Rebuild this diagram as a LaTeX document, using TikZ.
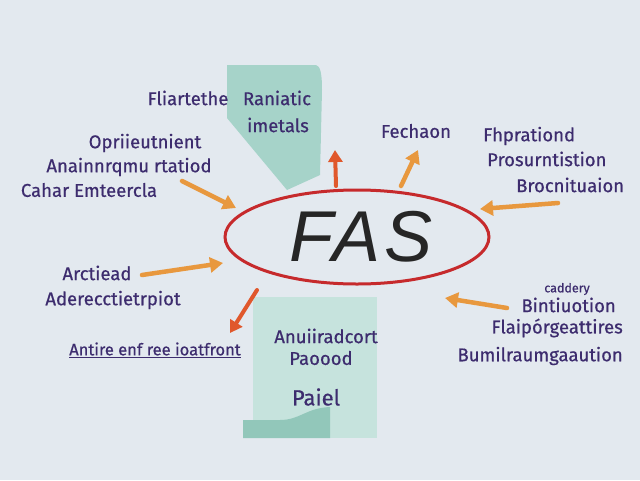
\documentclass[tikz,border=0pt]{standalone}
\usepackage{fontspec}
\setmainfont{Fira Sans}[FakeBold=0.6]
\newfontfamily\fasfont{Liberation Sans}[LetterSpace=6]
\usetikzlibrary{arrows.meta,shapes.geometric}
\definecolor{bg}{HTML}{E3E9EF}
\definecolor{tealA}{HTML}{A6D3C9}
\definecolor{tealB}{HTML}{C6E3DD}
\definecolor{tealC}{HTML}{92C7BA}
\definecolor{ink}{HTML}{3D2C6E}
\definecolor{ringred}{HTML}{C62A2C}
\definecolor{arrorange}{HTML}{E8983E}
\definecolor{arrred}{HTML}{E0582C}
\tikzset{
  lbl/.style={text=ink, font=\fontsize{18.5}{22}\selectfont, inner sep=0pt, anchor=center},
  arr/.style={draw=arrorange, line width=4.5pt, line cap=round, -{Triangle[width=15pt,length=13pt]}},
  arrr/.style={draw=arrred, line width=4pt, line cap=round, -{Triangle[width=14pt,length=12pt]}},
}
\begin{document}
\begin{tikzpicture}[x=1pt,y=-1pt]
\fill[bg] (0,0) rectangle (640,480);
\useasboundingbox (0,0) rectangle (640,480);
% teal shapes
\fill[tealA] (227,65) -- (316,65) .. controls (320,66) and (322,72) .. (322,90) -- (320,175) -- (287,190) -- (227,118) -- cycle;
\fill[tealB] (253,297) rectangle (377,438);
\fill[tealC] (243,420) -- (280,420) .. controls (300,420) and (306,408) .. (330,407) -- (330,438) -- (243,438) -- cycle;
% central ellipse
\node[draw=ringred, line width=3pt, ellipse, minimum width=264pt, minimum height=94pt, inner sep=0pt] (fas) at (357,237) {};
\node[font=\fasfont\itshape\fontsize{72}{72}\selectfont, text=black!85] (fastext) at (361,237) {FAS};
% labels
\node[lbl] (l1) at (188,98) {Fliartethe};
\node[lbl] (l2) at (277,98) {Raniatic};
\node[lbl] (l3) at (278,125) {imetals};
\node[lbl] (l4) at (145,143) {Opriieutnient};
\node[lbl] (l5) at (129,167) {Anainnrqmu rtatiod};
\node[lbl] (l6) at (89,190) {Cahar Emteercla};
\node[lbl] (l7) at (416,131) {Fechaon};
\node[lbl, anchor=west] (l8) at (483,136) {Fhprationd};
\node[lbl, anchor=west] (l9) at (487,159) {Prosurntistion};
\node[lbl, anchor=west] (l10) at (516,185) {Brocnituaion};
\node[lbl] (l11) at (97,273) {Arctiead};
\node[lbl] (l12) at (113,300) {Aderecctietrpiot};
\node[lbl, font=\fontsize{16.5}{20}\selectfont] (l13) at (155,350) {\underline{Antire enf ree ioatfront}};
\node[lbl] (l14) at (326,336) {Anuiiradcort};
\node[lbl] (l15) at (321,358) {Paoood};
\node[lbl, font=\fontsize{22}{24}\selectfont] (l16) at (316,397) {Paiel};
\node[lbl, font=\fontsize{12.5}{14}\selectfont] (l17) at (567,289) {caddery};
\node[lbl, anchor=east] (l18) at (616,305) {Bintiuotion};
\node[lbl, anchor=east] (l19) at (623,328) {Flaipórgeattires};
\node[lbl, anchor=east] (l20) at (623,356) {Bumilraumgaaution};
% arrow end points
\coordinate (a1s) at (182,181); \coordinate (a1e) at (236,208);
\coordinate (a2s) at (336,186); \coordinate (a2e) at (335,150);
\coordinate (a3s) at (401,186); \coordinate (a3e) at (418,150);
\coordinate (a4s) at (558,203); \coordinate (a4e) at (480,209);
\coordinate (a5s) at (142,275); \coordinate (a5e) at (223,263);
\coordinate (a6s) at (257,290); \coordinate (a6e) at (230,333);
\coordinate (a7s) at (507,308); \coordinate (a7e) at (445,298);
\draw[arr] (a1s) -- (a1e);
\draw[arrr] (a2s) -- (a2e);
\draw[arr] (a3s) -- (a3e);
\draw[arr] (a4s) -- (a4e);
\draw[arr] (a5s) -- (a5e);
\draw[arrr] (a6s) -- (a6e);
\draw[arr] (a7s) -- (a7e);
\end{tikzpicture}
\end{document}
